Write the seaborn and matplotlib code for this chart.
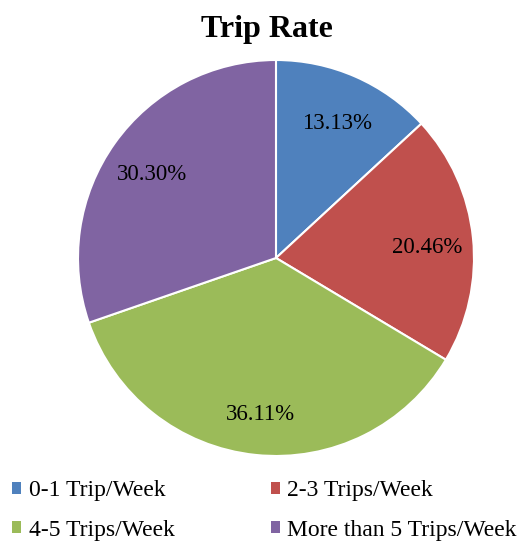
import matplotlib
matplotlib.use('Agg')
import seaborn as sns
from matplotlib import pyplot as plt
from matplotlib import transforms
from matplotlib.patches import Patch

categories = ['0-1 Trip/Week', '2-3 Trips/Week', '4-5 Trips/Week', 'More than 5 Trips/Week']
shares = [13.13, 20.46, 36.11, 30.30]
colors = ['#4F81BD', '#C0504D', '#9BBB59', '#8064A2']

sns.set_style('white')
plt.rcParams['font.family'] = ['Liberation Serif', 'DejaVu Serif']
plt.rcParams['text.color'] = 'black'

fig = plt.figure(figsize=(5.27, 5.42), dpi=100)
ax = fig.add_axes([0.148, 0.1587, 0.7514, 0.7306])

palette = sns.color_palette(colors)
wedges, texts, autotexts = ax.pie(
    shares, colors=palette, startangle=90, counterclock=False,
    autopct='%.2f%%', pctdistance=0.77,
    wedgeprops=dict(edgecolor='white', linewidth=1.5),
    textprops=dict(fontsize=16.5, color='black'))
ax.set_xlim(-1, 1)
ax.set_ylim(-1, 1)
ax.set_aspect('equal')

# nudge percent labels down a bit, like the original
nudge = transforms.ScaledTranslation(0, -5 / 100, fig.dpi_scale_trans)
for t in autotexts:
    t.set_transform(t.get_transform() + nudge)

fig.text(267 / 527, 1 - 37 / 542, 'Trip Rate', ha='center', va='baseline',
         fontsize=23, fontweight='bold', color='black')

# legend fills column-wise, reorder so rows read left to right
order = [0, 2, 1, 3]
handles = [Patch(facecolor=palette[i], edgecolor='none') for i in order]
labels = [categories[i] for i in order]
fig.legend(handles, labels, loc='upper left', ncol=2,
           bbox_to_anchor=(12 / 527, 1 - 480 / 542), frameon=False,
           borderaxespad=0, borderpad=0,
           fontsize=17, handlelength=0.4, handleheight=0.4,
           handletextpad=0.3, columnspacing=4.07, labelspacing=0.8)

fig.savefig('out.png', dpi=100)
